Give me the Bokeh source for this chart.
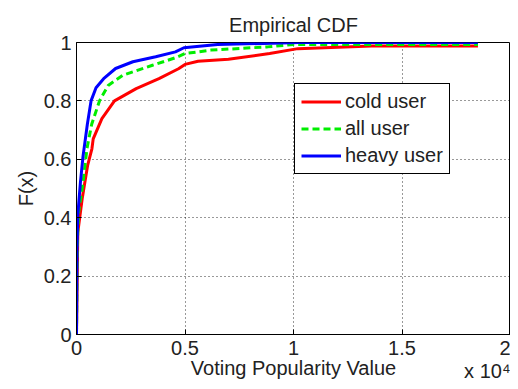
from bokeh.plotting import figure
from bokeh.models import Range1d, FixedTicker, Legend, LegendItem, Title
from bokeh.embed import file_html
from bokeh.resources import INLINE

# Voting popularity values (raw) and empirical CDF values
cold_x = [0, 60, 260, 510, 710, 770, 1170, 1750, 2750, 3800, 4700, 5000, 5600, 7000, 8900, 10200, 13600, 18500]
cold_y = [0, 0.35, 0.464, 0.578, 0.636, 0.67, 0.739, 0.80, 0.842, 0.876, 0.91, 0.925, 0.936, 0.943, 0.962, 0.979, 0.988, 0.988]

all_x = [0, 30, 100, 300, 480, 700, 1060, 1460, 2140, 3500, 4570, 5000, 6200, 8800, 10000, 18500]
all_y = [0, 0.30, 0.42, 0.52, 0.636, 0.72, 0.80, 0.853, 0.888, 0.922, 0.948, 0.962, 0.974, 0.985, 0.993, 0.993]

heavy_x = [0, 20, 60, 180, 300, 500, 670, 900, 1250, 1800, 2600, 3650, 4560, 4950, 6500, 10300, 18500]
heavy_y = [0, 0.29, 0.41, 0.52, 0.61, 0.72, 0.80, 0.845, 0.876, 0.911, 0.934, 0.951, 0.968, 0.982, 0.993, 1.0, 1.0]

x_ticks = [0, 0.5, 1, 1.5, 2]
x_tick_labels = ["0", "0.5", "1", "1.5", "2"]
y_ticks = [0, 0.2, 0.4, 0.6, 0.8, 1]
y_tick_labels = ["0", "0.2", "0.4", "0.6", "0.8", "1"]
x_exponent = "x 10\u2074"

SCALE = 1e4
FONT = "Liberation Sans"

p = figure(width=510, height=381, output_backend="svg", toolbar_location=None,
           x_range=Range1d(0, 2), y_range=Range1d(0, 1),
           min_border_left=76, min_border_right=0, min_border_top=42, min_border_bottom=47)

p.title.text = "Empirical CDF"
p.title.align = "center"
p.title.text_font = FONT
p.title.text_font_size = "20px"
p.title.text_font_style = "normal"
p.title.text_color = "#222222"
p.title.standoff = 14

p.outline_line_color = "black"
p.outline_line_width = 1

for ax, ticks, labels in ((p.xaxis[0], x_ticks, x_tick_labels), (p.yaxis[0], y_ticks, y_tick_labels)):
    ax.ticker = FixedTicker(ticks=ticks)
    ax.major_label_overrides = {t: l for t, l in zip(ticks, labels)}
    ax.major_label_text_font = FONT
    ax.major_label_text_font_size = "20px"
    ax.major_label_text_color = "#222222"
    ax.major_tick_in = 5
    ax.major_tick_out = 0
    ax.minor_tick_line_color = None
    ax.axis_line_color = "black"
    ax.major_tick_line_color = "black"
    ax.axis_label_text_font = FONT
    ax.axis_label_text_font_size = "20px"
    ax.axis_label_text_font_style = "normal"
    ax.axis_label_text_color = "#222222"

p.xaxis.axis_label = "Voting Popularity Value"
p.yaxis.axis_label = "F(x)"
p.xaxis.major_label_standoff = 6
p.xaxis.axis_label_standoff = -1
p.yaxis.major_label_standoff = 5
p.yaxis.axis_label_standoff = 4

for g, ticks in ((p.xgrid[0], x_ticks), (p.ygrid[0], y_ticks)):
    g.ticker = FixedTicker(ticks=ticks)
    g.grid_line_color = "black"
    g.grid_line_dash = "1 3"
    g.grid_line_alpha = 0.8
    g.grid_line_width = 1

r_cold = p.line([v / SCALE for v in cold_x], cold_y, line_color="#ff0000", line_width=3)
r_all = p.line([v / SCALE for v in all_x], all_y, line_color="#00ee00", line_width=3, line_dash="7 4")
r_heavy = p.line([v / SCALE for v in heavy_x], heavy_y, line_color="#0000ff", line_width=3)

legend = Legend(items=[LegendItem(label="cold user", renderers=[r_cold]),
                       LegendItem(label="all user", renderers=[r_all]),
                       LegendItem(label="heavy user", renderers=[r_heavy])],
                location=(218, 160), margin=0, padding=6, spacing=4,
                glyph_width=40, glyph_height=23, label_height=23, label_standoff=4,
                label_text_font=FONT, label_text_font_size="20px", label_text_color="#222222",
                border_line_color="black", border_line_width=1, border_line_alpha=1,
                background_fill_alpha=1)
p.add_layout(legend, "center")

# exponent note for the x axis, placed under the axis at the right
p.add_layout(Title(text=x_exponent, align="right", vertical_align="top", text_font=FONT,
                   text_font_size="20px", text_font_style="normal", text_color="#222222",
                   standoff=-44, offset=0),
             "below")

open("out.html", "w").write(file_html(p, INLINE))
